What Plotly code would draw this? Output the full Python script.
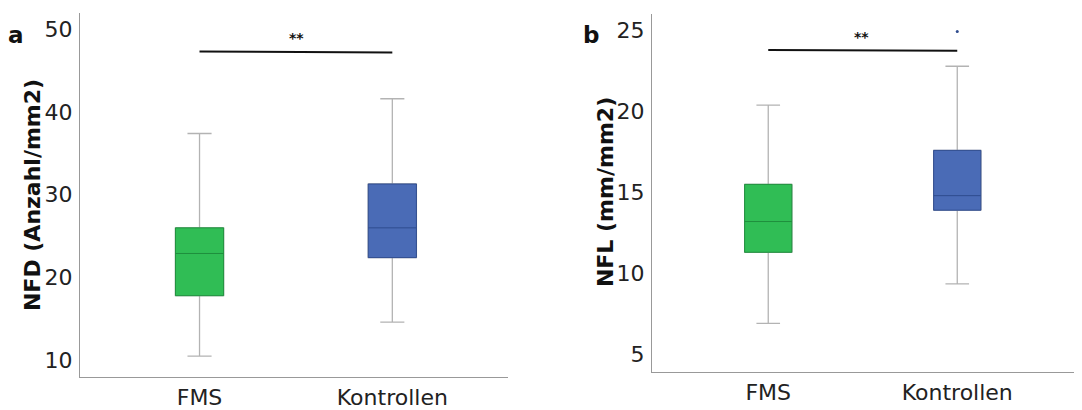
import plotly.graph_objects as go

# ---- data ----
categories = ["FMS", "Kontrollen"]

# Panel a: NFD (Anzahl/mm2)
nfd_q1 = [17.8, 22.4]
nfd_median = [22.9, 26.0]
nfd_q3 = [26.0, 31.3]
nfd_lower = [10.5, 14.6]
nfd_upper = [37.4, 41.6]
nfd_sig_y = [47.3, 47.2]

# Panel b: NFL (mm/mm2)
nfl_q1 = [11.3, 13.9]
nfl_median = [13.2, 14.8]
nfl_q3 = [15.5, 17.6]
nfl_lower = [6.9, 9.35]
nfl_upper = [20.4, 22.8]
nfl_outlier_x = ["Kontrollen"]
nfl_outlier_y = [24.95]
nfl_sig_y = [23.8, 23.75]

nfd_ticks = [10, 20, 30, 40, 50]
nfl_ticks = [5, 10, 15, 20, 25]

green_fill = "#30bd55"
green_line = "#1f8f3d"
blue_fill = "#4a6bb6"
blue_line = "#2f4c8e"
whisker_col = "#b3b3b3"

# page has an 8px body margin; work in screen pixels and convert
OFF = 8
W, H = 1082 - OFF, 410 - OFF
FONT = "DejaVu Sans"


def px(x):
    return (x - OFF) / W


def py(y):
    return (H - (y - OFF)) / H


fig = go.Figure()


def add_panel(xa, ya, q1, med, q3, lo, hi):
    fig.add_trace(go.Box(
        x=categories, q1=q1, median=med, q3=q3, lowerfence=lo, upperfence=hi,
        width=0.25, whiskerwidth=0.5, fillcolor="rgba(0,0,0,0)",
        line=dict(color=whisker_col, width=1.3), boxpoints=False,
        xaxis=xa, yaxis=ya, showlegend=False, hoverinfo="skip"))
    for i, (fc, lc) in enumerate([(green_fill, green_line), (blue_fill, blue_line)]):
        fig.add_trace(go.Box(
            x=[categories[i]], q1=[q1[i]], median=[med[i]], q3=[q3[i]],
            lowerfence=[q1[i]], upperfence=[q3[i]],
            width=0.25, whiskerwidth=0.0, fillcolor=fc,
            line=dict(color=lc, width=1), boxpoints=False,
            xaxis=xa, yaxis=ya, showlegend=False, hoverinfo="skip"))


add_panel("x", "y", nfd_q1, nfd_median, nfd_q3, nfd_lower, nfd_upper)
add_panel("x2", "y2", nfl_q1, nfl_median, nfl_q3, nfl_lower, nfl_upper)

fig.add_trace(go.Scatter(x=categories, y=nfd_sig_y, mode="lines",
                         line=dict(color="#111111", width=2),
                         xaxis="x", yaxis="y", showlegend=False, hoverinfo="skip"))
fig.add_trace(go.Scatter(x=categories, y=nfl_sig_y, mode="lines",
                         line=dict(color="#111111", width=2),
                         xaxis="x2", yaxis="y2", showlegend=False, hoverinfo="skip"))
fig.add_trace(go.Scatter(x=nfl_outlier_x, y=nfl_outlier_y, mode="markers",
                         marker=dict(color=blue_line, size=3),
                         xaxis="x2", yaxis="y2", showlegend=False, hoverinfo="skip"))

axis_common = dict(showline=True, linecolor="#999999", linewidth=1, showgrid=False,
                   zeroline=False, ticks="", tickfont=dict(family=FONT, size=22, color="#222222"))

fig.update_layout(
    width=W, height=H,
    margin=dict(l=0, r=0, t=0, b=0),
    paper_bgcolor="white", plot_bgcolor="white",
    boxmode="overlay",
    xaxis=dict(domain=[px(80), px(508)], range=[-0.62, 1.6], type="category",
               anchor="y", **axis_common),
    yaxis=dict(domain=[py(379), py(13)], range=[7.96, 51.96],
               tickvals=nfd_ticks, anchor="x", ticklabelstandoff=2, **axis_common),
    xaxis2=dict(domain=[px(652), 1.0], range=[-0.615, 1.66], type="category",
                anchor="y2", **axis_common),
    yaxis2=dict(domain=[py(374.3), py(14)], range=[3.87, 26.03],
                tickvals=nfl_ticks, anchor="x2", ticklabelstandoff=2, **axis_common),
)

ann_font = dict(family=FONT, color="#111111")
annotations = [
    dict(text="<b>NFD (Anzahl/mm2)</b>", x=px(32), y=py(196), textangle=-90,
         font=dict(size=22, **ann_font)),
    dict(text="<b>NFL (mm/mm2)</b>", x=px(605), y=py(193), textangle=-90,
         font=dict(size=22, **ann_font)),
    dict(text="<b>a</b>", x=px(16), y=py(35), font=dict(size=23, **ann_font)),
    dict(text="<b>b</b>", x=px(591), y=py(35), font=dict(size=23, **ann_font)),
    dict(text="<b>**</b>", x=px(296), y=py(38), font=dict(size=14, **ann_font)),
    dict(text="<b>**</b>", x=px(861), y=py(37), font=dict(size=14, **ann_font)),
]
for a in annotations:
    a.update(xref="paper", yref="paper", showarrow=False, xanchor="center", yanchor="middle")
fig.update_layout(annotations=annotations)

fig.write_html("out.html")
